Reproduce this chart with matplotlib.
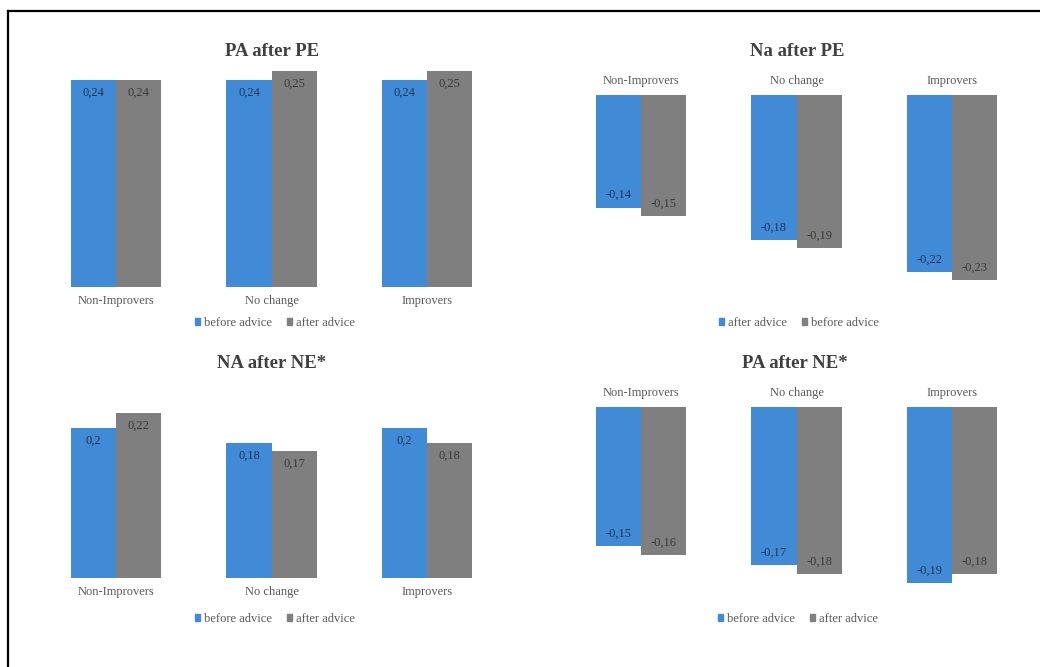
import numpy as np
import matplotlib.pyplot as plt
from matplotlib.lines import Line2D
from matplotlib.patches import Patch

plt.rcParams['font.family'] = ['Liberation Serif', 'DejaVu Serif']

categories = ['Non-Improvers', 'No change', 'Improvers']

# PA after PE
pa_pe_before = [0.24, 0.24, 0.24]
pa_pe_after = [0.24, 0.25, 0.25]
# Na after PE (blue = after, gray = before)
na_pe_after = [-0.14, -0.18, -0.22]
na_pe_before = [-0.15, -0.19, -0.23]
# NA after NE*
na_ne_before = [0.2, 0.18, 0.2]
na_ne_after = [0.22, 0.17, 0.18]
# PA after NE*
pa_ne_before = [-0.15, -0.17, -0.19]
pa_ne_after = [-0.16, -0.18, -0.18]

W, H = 1040, 667
BLUE = '#418ad5'
GRAY = '#7f7f7f'
TXT = '#595959'

fig = plt.figure(figsize=(W / 100, H / 100), dpi=100)


def fx(x):
    return x / W


def fy(y):
    return 1 - y / H


def panel(left, right, top, bottom, zero, scale, s1, s2, names, title,
          title_xy, legend_xy, labels_top):
    ax = fig.add_axes([fx(left), fy(bottom), (right - left) / W, (bottom - top) / H])
    x = np.arange(len(categories))
    w = 0.29
    ax.bar(x - w / 2, s1, w, color=BLUE)
    ax.bar(x + w / 2, s2, w, color=GRAY)
    ax.set_xlim(-0.5, 2.5)
    ax.set_ylim((zero - bottom) / scale, (zero - top) / scale)
    for vals, dx, c in ((s1, -w / 2, '#1f3556'), (s2, w / 2, '#3a3a3a')):
        for xi, v in zip(x, vals):
            ax.annotate(str(v).replace('.', ','), (xi + dx, v),
                        xytext=(0, -9 if v > 0 else 9), textcoords='offset points',
                        ha='center', va='center', fontsize=9, color=c)
    for s in ax.spines.values():
        s.set_visible(False)
    ax.set_yticks([])
    ax.set_xticks(x)
    ax.set_xticklabels(categories, fontsize=9, color=TXT)
    ax.tick_params(axis='x', length=0, pad=6)
    if labels_top:
        ax.xaxis.tick_top()
    fig.text(fx(title_xy[0]), fy(title_xy[1]), title, ha='center', va='center',
             fontsize=13.5, fontweight='bold', color='#404040')
    handles = [Patch(color=BLUE), Patch(color=GRAY)]
    fig.legend(handles, names, loc='center', bbox_to_anchor=(fx(legend_xy[0]), fy(legend_xy[1])),
               ncol=2, frameon=False, fontsize=9, labelcolor=TXT,
               handlelength=0.4, handleheight=0.4, handletextpad=0.35,
               columnspacing=1.2, borderaxespad=0)
    return ax


panel(38.25, 504.75, 60, 287, 287, 862, pa_pe_before, pa_pe_after,
      ['before advice', 'after advice'], 'PA after PE', (272, 52), (275, 323), False)
panel(563.25, 1029.75, 95, 300, 95, 805, na_pe_after, na_pe_before,
      ['after advice', 'before advice'], 'Na after PE', (797, 52), (799, 323), True)
panel(38.25, 504.75, 390, 578, 578, 748, na_ne_before, na_ne_after,
      ['before advice', 'after advice'], 'NA after NE*', (272, 363), (275, 619), False)
panel(563.25, 1029.75, 407, 600, 407, 928, pa_ne_before, pa_ne_after,
      ['before advice', 'after advice'], 'PA after NE*', (795, 363), (798, 619), True)

# outer frame (left and top edges visible)
fig.add_artist(Line2D([fx(8), fx(8)], [0, fy(11)], color='black', lw=1.6))
fig.add_artist(Line2D([fx(8), 1], [fy(11), fy(11)], color='black', lw=1.6))

fig.savefig('out.png', dpi=100)
